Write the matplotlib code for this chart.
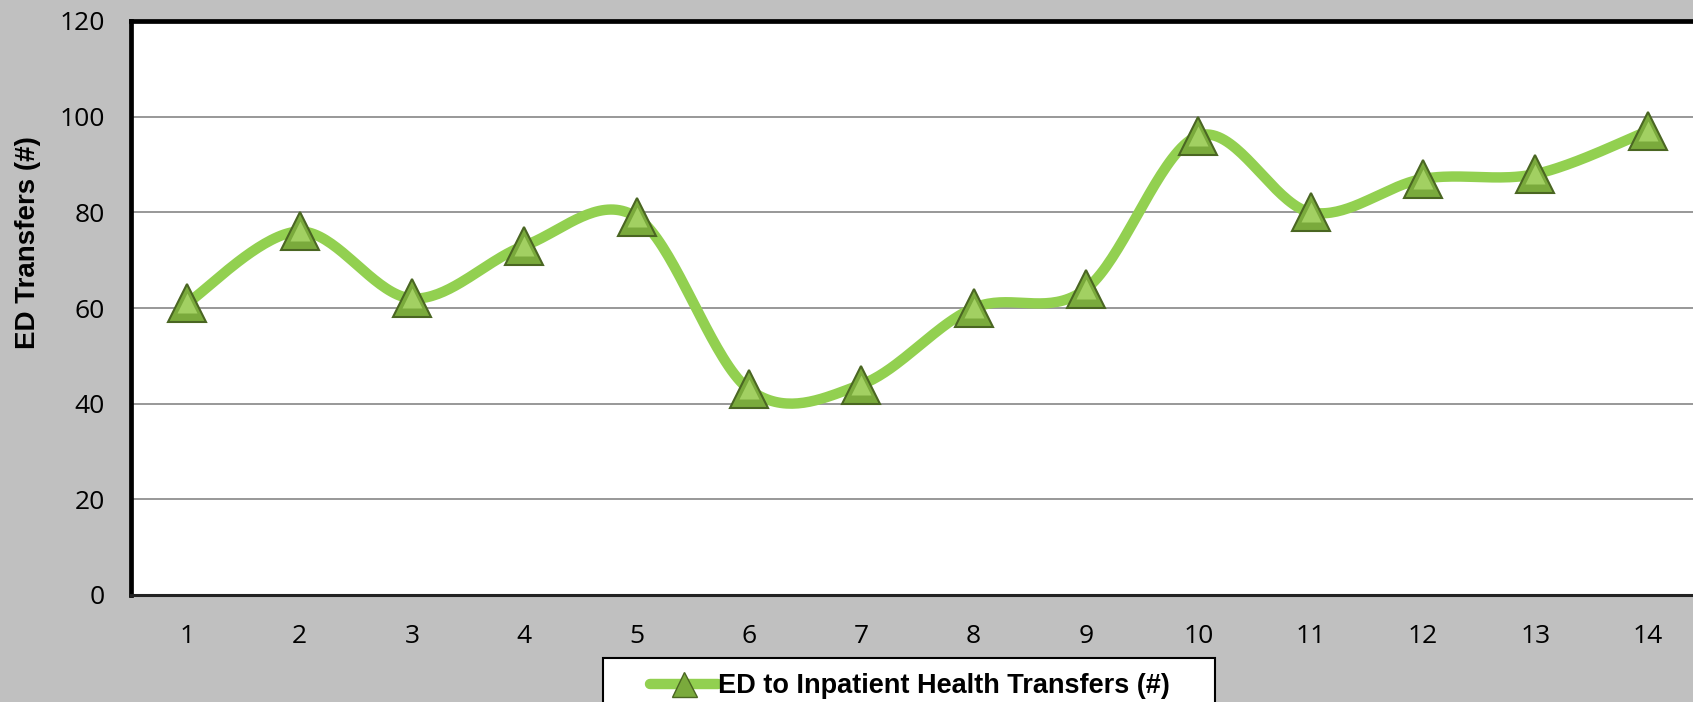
import numpy as np
import matplotlib
matplotlib.use("Agg")
import matplotlib.pyplot as plt
from matplotlib.patches import Rectangle
from matplotlib.lines import Line2D

# data
months = [1, 2, 3, 4, 5, 6, 7, 8, 9, 10, 11, 12, 13, 14]
transfers = [61, 76, 62, 73, 79, 43, 44, 60, 64, 96, 80, 87, 88, 97]
series_name = "ED to Inpatient Health Transfers (#)"
y_label = "ED Transfers (#)"
y_ticks = [0, 20, 40, 60, 80, 100, 120]

line_green = "#92D050"
marker_face = "#7AAA3C"
marker_edge = "#4A6622"
marker_hi = "#A2D062"


def smooth(x, y, n=40):
    # excel-like smoothed line: cubic bezier with catmull-rom control points
    x = np.asarray(x, float)
    y = np.asarray(y, float)
    px = np.concatenate([[x[0]], x, [x[-1]]])
    py = np.concatenate([[y[0]], y, [y[-1]]])
    xs, ys = [], []
    t = np.linspace(0, 1, n)
    for i in range(1, len(px) - 2):
        p0 = np.array([px[i], py[i]])
        p3 = np.array([px[i + 1], py[i + 1]])
        c1 = p0 + (p3 - np.array([px[i - 1], py[i - 1]])) / 6
        c2 = p3 - (np.array([px[i + 2], py[i + 2]]) - p0) / 6
        pts = (((1 - t) ** 3)[:, None] * p0 + (3 * (1 - t) ** 2 * t)[:, None] * c1
               + (3 * (1 - t) * t ** 2)[:, None] * c2 + (t ** 3)[:, None] * p3)
        xs.extend(pts[:, 0])
        ys.extend(pts[:, 1])
    return xs, ys


W, H = 1693, 702
fig = plt.figure(figsize=(W / 100, H / 100), dpi=100)
fig.patch.set_facecolor("#C0C0C0")

ax = fig.add_axes([131 / W, 1 - 595 / H, (1704 - 131) / W, (595 - 21) / H])
ax.set_facecolor("white")
ax.set_xlim(0.5, 14.5)
ax.set_ylim(0, 120)
ax.set_yticks(y_ticks)
ax.set_xticks(months)
ax.grid(axis="y", color="#868686", linewidth=1.2)
ax.set_axisbelow(True)
for s in ["left", "top"]:
    ax.spines[s].set_linewidth(3.4)
    ax.spines[s].set_color("black")
ax.spines["bottom"].set_linewidth(2.2)
ax.spines["bottom"].set_color("#222222")
ax.spines["right"].set_visible(False)
ax.tick_params(axis="both", length=0, labelsize=19, colors="black")
ax.tick_params(axis="y", pad=19)
ax.tick_params(axis="x", pad=21)
for lab in ax.get_xticklabels() + ax.get_yticklabels():
    lab.set_fontfamily("Open Sans")

sx, sy = smooth(months, transfers)
ax.plot(sx, sy, color=line_green, linewidth=7.5, solid_capstyle="round", zorder=3)
ax.plot(months, transfers, linestyle="none", marker="^", markersize=28,
        markerfacecolor=marker_face, markeredgecolor=marker_edge,
        markeredgewidth=1.5, zorder=4)
ax.plot(months, transfers, linestyle="none", marker="^", markersize=15,
        markerfacecolor=marker_hi, markeredgecolor="none", zorder=5)

fig.text(28 / W, 1 - 243 / H, y_label, rotation=90, ha="center", va="center",
         fontsize=20, fontweight="bold", family="Liberation Sans")

# legend box
fig.patches.append(Rectangle((603 / W, -0.05), (1215 - 603) / W, 0.05 + 1 - 658 / H,
                             transform=fig.transFigure, facecolor="white",
                             edgecolor="black", linewidth=1.5, zorder=1))
handle = Line2D([], [], color=line_green, linewidth=7.5, marker="^", markersize=18,
                markerfacecolor=marker_face, markeredgecolor=marker_edge,
                solid_capstyle="round")
fig.legend([handle], [series_name], loc="center", frameon=False,
           bbox_to_anchor=(910 / W, 1 - 686 / H), handlelength=2.5,
           handletextpad=0.0, borderpad=0,
           prop={"family": "Liberation Sans", "weight": "bold", "size": 19.5})

fig.savefig("out.png", dpi=100, facecolor=fig.get_facecolor())
